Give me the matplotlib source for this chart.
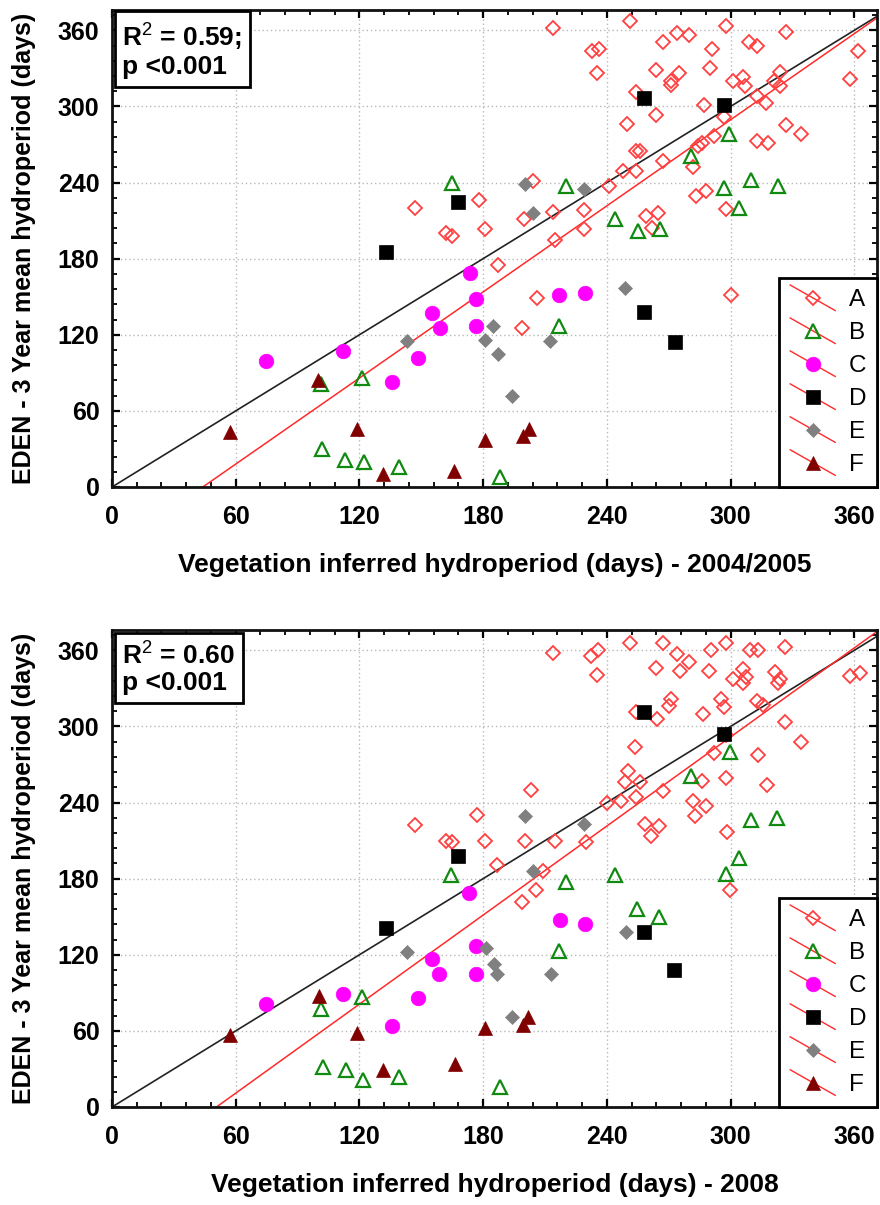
import matplotlib
matplotlib.use("Agg")
import matplotlib.pyplot as plt
from matplotlib.lines import Line2D
from matplotlib.legend_handler import HandlerBase
from matplotlib.ticker import MultipleLocator

# ---------------- data: 2004/2005 ----------------
a_x_0405 = [147, 162, 165, 178, 181, 187, 206, 199, 200, 204, 214, 215, 214, 229, 229, 233, 236, 235,
            241, 248, 254, 250, 251, 254, 256, 254, 259, 265, 262, 264, 264, 267, 267, 271, 271, 274,
            275, 280, 282, 283, 284, 286, 288, 287, 290, 291, 292, 297, 298, 298, 300, 301, 306, 307,
            309, 313, 313, 313, 317, 318, 321, 324, 324, 327, 327, 334, 358, 362]
a_y_0405 = [220, 200, 198, 226, 203, 175, 149, 125, 211, 241, 217, 195, 362, 218, 203, 344, 345, 326,
            237, 249, 249, 286, 367, 265, 265, 311, 214, 216, 204, 329, 293, 351, 257, 320, 317, 358,
            326, 356, 252, 229, 269, 271, 233, 301, 330, 345, 277, 292, 363, 219, 151, 320, 323, 316,
            351, 348, 308, 273, 303, 271, 320, 327, 316, 359, 285, 278, 322, 344]
b_x_0405 = [165, 101.6, 121, 102, 113, 122, 139, 188, 217, 220, 244, 255, 266, 281, 297, 299, 304, 310, 323]
b_y_0405 = [240, 81, 86, 30, 21, 20, 16, 8, 127, 237, 211, 202, 203, 261, 236, 278, 220, 242, 237]
c_x_0405 = [74.5, 112, 135.6, 148.5, 155, 159, 173.5, 176.4, 176.4, 217, 229.6]
c_y_0405 = [99, 107, 83, 102, 137, 125, 169, 148, 127, 151, 153]
d_x_0405 = [133, 168, 258, 297, 258, 273]
d_y_0405 = [185.5, 225, 307, 301, 138, 114]
e_x_0405 = [143, 181, 185, 187, 194, 212.5, 200.5, 204, 229, 249]
e_y_0405 = [115, 116, 127, 105, 72, 115, 239, 216, 235, 157]
f_x_0405 = [57, 100, 119, 131.5, 166, 181, 199.4, 202]
f_y_0405 = [43, 84.5, 46, 10, 13, 37, 40, 45.5]

# ---------------- data: 2008 ----------------
a_x_2008 = [147, 162, 165, 177, 181, 186.5, 198.6, 205.5, 209, 200.5, 203.4, 214, 215, 230, 232.5, 235.7,
            235.3, 240.3, 247, 248.7, 250.3, 251, 253.5, 253.9, 254.3, 256, 258.7, 261.6, 263.7, 264.5,
            265.3, 267.2, 267.2, 270.2, 271.3, 274.2, 275.3, 279.8, 281.8, 282.6, 286.3, 286.6, 287.9,
            289.5, 290.7, 291.8, 295.5, 296.8, 297.6, 297.6, 298, 298.4, 299.6, 301.2, 306, 307.7, 306,
            309.6, 313.3, 312.8, 313.3, 315.6, 317.8, 321.4, 323.8, 323, 326.6, 326.6, 334.3, 357.7, 362.6]
a_y_2008 = [222, 210, 209, 230.5, 210, 190.4, 161.5, 170.7, 186, 210, 250, 358, 210, 209, 355.6, 360.4,
            340.4, 240, 241.5, 256, 265, 366, 284, 244, 311, 256, 223, 214, 346, 306,
            221.4, 366, 249.4, 316, 321.6, 357, 344, 350.4, 241, 229, 257, 310, 237.6,
            344, 360, 279, 321.6, 315, 366, 259, 293, 216.6, 170.7, 337.3, 345, 338.6, 334.6,
            360, 360, 320.2, 277.7, 317, 254, 343, 337.3, 334.6, 362.7, 303.2, 287.5, 339.4, 342]
b_x_2008 = [164.3, 101.6, 121, 102.4, 113.3, 121.8, 139.3, 188, 217, 220, 244, 254.6, 265.3, 280.7,
            297.6, 299.6, 304, 310, 322.7]
b_y_2008 = [183, 77.6, 86.8, 31.7, 29, 21, 24, 16, 123, 177, 183, 156, 150, 261, 184, 280, 196, 226, 227.6]
c_x_2008 = [74.5, 112, 135.6, 148.5, 155, 158.7, 173.2, 176.4, 176.4, 217.2, 229.6]
c_y_2008 = [81, 89, 64, 86, 117, 104.6, 168.6, 126.7, 104.6, 147.7, 144.5]
d_x_2008 = [132.8, 167.9, 257.9, 296.7, 257.9, 272.6]
d_y_2008 = [141.4, 197.7, 311, 294, 138, 108.3]
e_x_2008 = [143, 181.3, 185.3, 186.8, 194, 213, 200.5, 204.2, 228.8, 249.2]
e_y_2008 = [122, 125, 113, 104.6, 70.6, 104.6, 229, 185.7, 222.7, 138]
f_x_2008 = [57.2, 100.3, 118.6, 131.5, 166.3, 181, 199.4, 201.8]
f_y_2008 = [56.6, 87.6, 58, 29, 33.6, 62, 65, 71]

series_names = ["A", "B", "C", "D", "E", "F"]
reg_slope = [1.131, 1.17]
reg_intercept = [-49.8, -59.3]
stats_text = ["R$^2$ = 0.59;\np <0.001", "R$^2$ = 0.60\np <0.001"]
xlabels = ["Vegetation inferred hydroperiod (days) - 2004/2005",
           "Vegetation inferred hydroperiod (days) - 2008"]
ylabel = "EDEN - 3 Year mean hydroperiod (days)"
ticks = [0, 60, 120, 180, 240, 300, 360]

panels = [
    [(a_x_0405, a_y_0405), (b_x_0405, b_y_0405), (c_x_0405, c_y_0405),
     (d_x_0405, d_y_0405), (e_x_0405, e_y_0405), (f_x_0405, f_y_0405)],
    [(a_x_2008, a_y_2008), (b_x_2008, b_y_2008), (c_x_2008, c_y_2008),
     (d_x_2008, d_y_2008), (e_x_2008, e_y_2008), (f_x_2008, f_y_2008)],
]

styles = [
    dict(marker="D", ms=7.2, mfc="none", mec="#ff4040", mew=1.3),
    dict(marker="^", ms=9.5, mfc="none", mec="#118a11", mew=1.6),
    dict(marker="o", ms=10.5, mfc="#ff00ff", mec="#ff00ff", mew=0.5),
    dict(marker="s", ms=10.5, mfc="#000000", mec="#000000", mew=0.5),
    dict(marker="D", ms=6.8, mfc="#808080", mec="#808080", mew=0.5),
    dict(marker="^", ms=10.5, mfc="#800000", mec="#800000", mew=0.5),
]

plt.rcParams["font.family"] = ["Liberation Sans", "DejaVu Sans"]
plt.rcParams["mathtext.fontset"] = "custom"
plt.rcParams["mathtext.rm"] = "Liberation Sans"
plt.rcParams["mathtext.bf"] = "Liberation Sans:bold"


class DiagHandler(HandlerBase):
    def create_artists(self, legend, orig_handle, xdescent, ydescent, width, height, fontsize, trans):
        x0, x1 = -xdescent, width - xdescent
        yc = height / 2 - ydescent
        line = Line2D([x0, x1], [yc + 0.75 * height, yc - 0.75 * height], color="#ff2a2a", lw=1.0)
        mk = Line2D([(x0 + x1) / 2], [yc], linestyle="none", marker=orig_handle.get_marker(),
                    markersize=orig_handle.get_markersize(),
                    markerfacecolor=orig_handle.get_markerfacecolor(),
                    markeredgecolor=orig_handle.get_markeredgecolor(),
                    markeredgewidth=orig_handle.get_markeredgewidth())
        line.set_transform(trans)
        mk.set_transform(trans)
        return [line, mk]


W, H = 880, 1205
fig = plt.figure(figsize=(W / 100, H / 100), dpi=100)
axes_px = [(112, 10, 877, 487), (112, 630, 877, 1107)]
XMAX, YMAX = 371, 376

for i, (l, t, r, b) in enumerate(axes_px):
    ax = fig.add_axes([l / W, 1 - b / H, (r - l) / W, (b - t) / H])
    ax.set_xlim(0, XMAX)
    ax.set_ylim(0, YMAX)
    ax.grid(True, which="major", color="#b8b8b8", linestyle=(0, (1, 2)), lw=1.0)
    ax.set_axisbelow(True)
    # lines
    ax.axline((0, 0), slope=1, color="#222222", lw=1.2, zorder=2)
    xs = [0, XMAX + 10]
    ax.plot(xs, [reg_intercept[i] + reg_slope[i] * v for v in xs], color="#ff2a2a", lw=1.1, zorder=2)
    handles = []
    for (sx, sy), st, name in zip(panels[i], styles, series_names):
        h, = ax.plot(sx, sy, linestyle="none", zorder=3, label=name, **st)
        handles.append(h)
    ax.set_xticks(ticks)
    ax.set_yticks(ticks)
    ax.xaxis.set_minor_locator(MultipleLocator(12))
    ax.yaxis.set_minor_locator(MultipleLocator(12))
    ax.tick_params(which="both", direction="in", top=True, right=True, width=1.6)
    ax.tick_params(which="major", length=6)
    ax.tick_params(which="minor", length=3.5, width=1.3)
    ax.tick_params(axis="x", which="major", pad=13, labelsize=18)
    ax.tick_params(axis="y", which="major", pad=9, labelsize=18)
    for lab in ax.get_xticklabels() + ax.get_yticklabels():
        lab.set_fontweight("bold")
    for sp in ax.spines.values():
        sp.set_linewidth(2)
        sp.set_color("#111111")
    ax.set_xlabel(xlabels[i], fontsize=19, fontweight="bold", labelpad=17)
    ax.set_ylabel(ylabel, fontsize=18, fontweight="bold")
    ax.yaxis.set_label_coords(-(112 - 36) / (r - l), 0.5)
    ax.annotate(stats_text[i], xy=(0, 1), xycoords="axes fraction", xytext=(7.5, -7.5),
                textcoords="offset points", ha="left", va="top", fontsize=19, fontweight="bold",
                linespacing=1.15, zorder=6,
                bbox=dict(boxstyle="square,pad=0.3", fc="white", ec="black", lw=2))
    leg = ax.legend(handles=handles, loc="lower right", borderaxespad=0, fancybox=False,
                    framealpha=1, edgecolor="black", fontsize=17.5, labelspacing=0.45,
                    handlelength=1.85, handletextpad=0.55, borderpad=0.45,
                    handler_map={Line2D: DiagHandler()})
    leg.get_frame().set_linewidth(2)
    leg.set_zorder(7)

fig.savefig("out.png", dpi=100)
